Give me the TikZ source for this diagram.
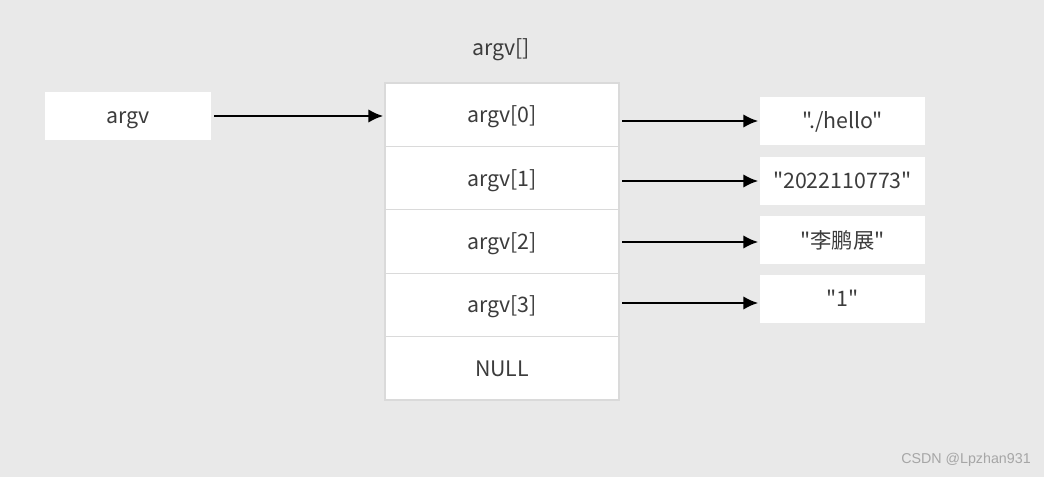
\documentclass[tikz,border=0pt]{standalone}
\usepackage{fontspec}
\setmainfont{Noto Sans CJK SC}[Ligatures=TeXOff]
\newfontfamily\markfont{Liberation Sans}
\usetikzlibrary{arrows.meta}
\definecolor{bggrey}{RGB}{233,233,233}
\definecolor{cellline}{RGB}{218,218,218}
\definecolor{txtgrey}{RGB}{60,60,60}

\begin{document}
\begin{tikzpicture}[x=0.75pt,y=-0.75pt,
  cell/.style={draw=cellline, fill=white, line width=0.8pt, text=txtgrey,
    font=\fontsize{16}{19}\selectfont, inner sep=0pt, text height=14pt, text depth=2pt},
  slot/.style={cell, minimum width=175.5pt, minimum height=47.55pt},
  strbox/.style={cell, draw=none, minimum width=123.75pt, minimum height=36pt},
  ptr/.style={-{Latex[length=11pt,width=10pt]}, line width=1.5pt, shorten >=1pt}]

% Background
\fill[bggrey] (0,0) rectangle (1044,477);
\useasboundingbox (0,0) rectangle (1044,477);

% Pointer variable
\node[cell, draw=none, minimum width=124.5pt, minimum height=36pt] (argv) at (128,116) {argv};

% Array of pointers
\node[text=txtgrey, font=\fontsize{16}{19}\selectfont] (arrname) at (501,50) {argv[]};
\foreach \i in {0,...,3}
  \node[slot] (arg\i) at (502,{114.7+63.4*\i}) {argv[\i]};
\node[slot] (argnull) at (502,368.3) {NULL};

% Strings
\node[strbox] (str0) at (842.5,121) {"./hello"};
\node[strbox] (str1) at (842.5,181) {"2022110773"};
\node[strbox] (str2) at (842.5,240) {"李鹏展"};
\node[strbox] (str3) at (842.5,298.5) {"1"};

% Arrows
\draw[ptr, shorten <=2pt] (argv.east) -- (argv.east -| arg0.west);
\foreach \i/\ay in {0/121,1/181,2/242,3/303}
  \draw[ptr, shorten <=2pt] (arg\i.east |- 0,\ay) -- (str\i.west |- 0,\ay);

% Watermark
\node[text=black!35, font=\markfont\fontsize{10.7}{13}\selectfont] (mark) at (966,460) {CSDN @Lpzhan931};

\end{tikzpicture}
\end{document}
